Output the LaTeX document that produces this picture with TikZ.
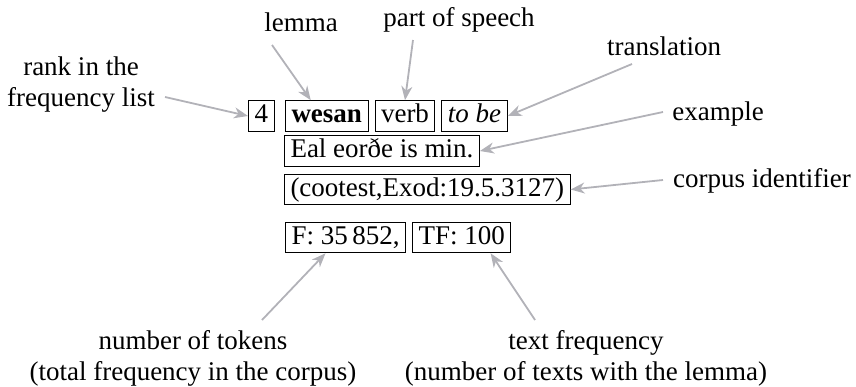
\documentclass[tikz,border=0pt]{standalone}
\usepackage{fontspec}
\setmainfont{Liberation Serif}
\usetikzlibrary{arrows.meta,positioning}
\definecolor{arrowgray}{RGB}{178,178,184}
\begin{document}
\begin{tikzpicture}[x=0.5pt,y=-0.5pt,
  every node/.style={font=\fontsize{13.5}{15.5}\selectfont},
  fbox/.style={draw=black,line width=0.5pt,inner xsep=3pt,inner ysep=1.3pt,
    text height=9.6pt,text depth=3.1pt},
  lbl/.style={inner sep=0pt,align=center},
  pointer/.style={draw=arrowgray,line width=0.9pt,
    -{Stealth[length=7pt,width=5.5pt,inset=2.2pt]}}]
\useasboundingbox (0,0) rectangle (856,386);
% boxes
\node[fbox,anchor=west] (rank) at (248,116) {4};
\node[fbox,anchor=west] (wesan) at (285,116) {\textbf{wesan}};
\node[fbox,right=3pt of wesan] (verb) {verb};
\node[fbox,right=3pt of verb] (tobe) {\textit{to be}};
\node[fbox,anchor=west] (ex) at (284,151) {Eal eorðe is min.};
\node[fbox,anchor=west] (corp) at (284,189.5) {(cootest,Exod:19.5.3127)};
\node[fbox,anchor=west] (freq) at (285,237.5) {F: 35\,852,};
\node[fbox,anchor=west] (tf) at (412,237.5) {TF: 100};
% labels
\node[lbl] (lrank) at (81,85) {rank in the\\frequency list};
\node[lbl] (llemma) at (301,22) {lemma};
\node[lbl] (lpos) at (459,20) {part of speech};
\node[lbl] (ltrans) at (664,46) {translation};
\node[lbl] (lex) at (718,114) {example};
\node[lbl] (lcorp) at (762,181) {corpus identifier};
\node[lbl] (ltok) at (193,358) {number of tokens\\(total frequency in the corpus)};
\node[lbl] (ltf) at (586,358) {text frequency\\(number of texts with the lemma)};
% arrow tails
\coordinate (trank) at (165,97);
\coordinate (tlemma) at (272,45);
\coordinate (tpos) at (413,40);
\coordinate (ttrans) at (632,64);
\coordinate (tex) at (663,112);
\coordinate (tcorp) at (663,180);
\coordinate (ttok) at (262,320);
\coordinate (ttf) at (535,320);
% arrows
\draw[pointer] (trank) -- (rank.west);
\draw[pointer] (tlemma) -- ([xshift=-8pt]wesan.north);
\draw[pointer] (tpos) -- (verb.north);
\draw[pointer] (ttrans) -- (tobe.east);
\draw[pointer] (tex) -- (ex.east);
\draw[pointer] (tcorp) -- (corp.east);
\draw[pointer] (ttok) -- ([xshift=-10pt]freq.south);
\draw[pointer] (ttf) -- ([xshift=14.5pt]tf.south);
\end{tikzpicture}
\end{document}
